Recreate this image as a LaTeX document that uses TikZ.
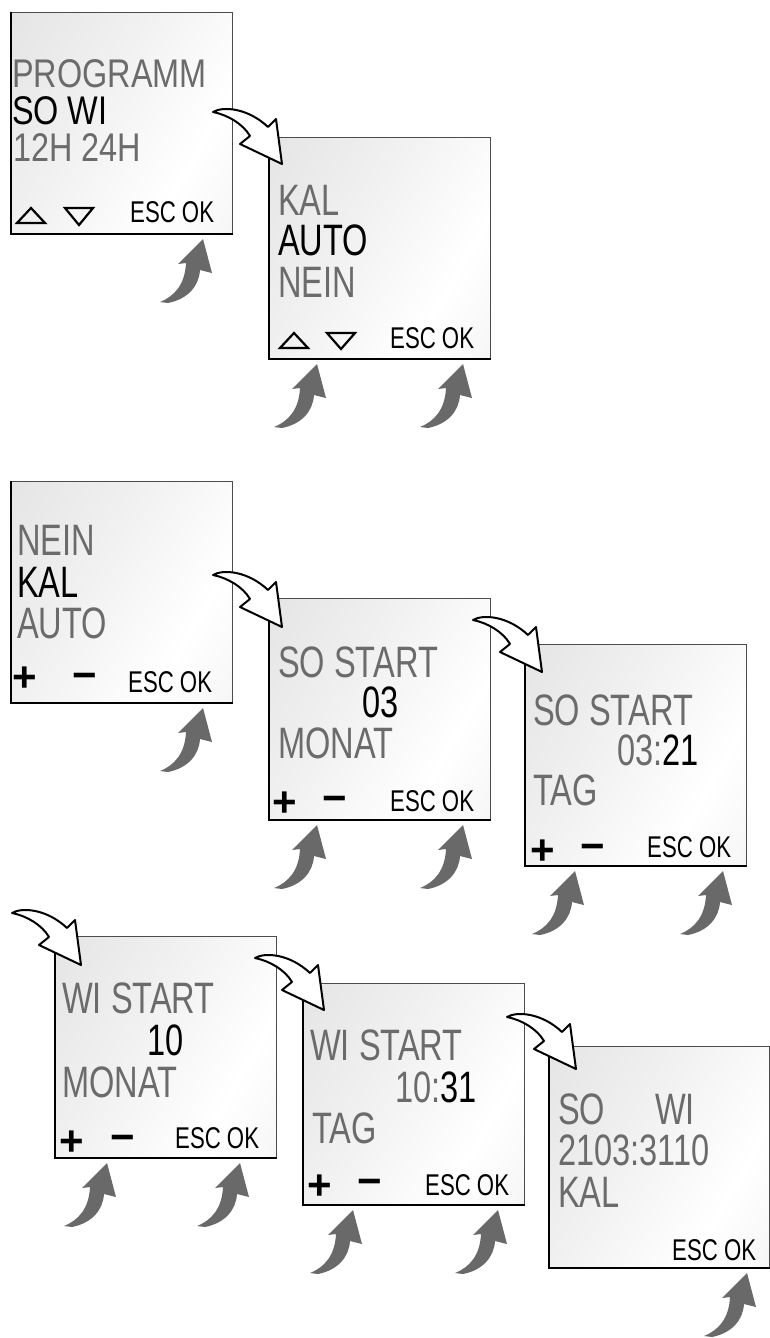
\documentclass[tikz,border=0pt]{standalone}
\usepackage{fontspec}
\newfontfamily\lcd[FakeStretch=0.74]{Liberation Sans}
\newfontfamily\lcdw[FakeStretch=0.81]{Liberation Sans}
\newfontfamily\symf{Liberation Sans}
\definecolor{lcdgray}{gray}{0.42}
\definecolor{pressgray}{gray}{0.41}
\pgfdeclarehorizontalshading{lcdshade}{100bp}{color(0bp)=(black!13); color(40bp)=(black!6); color(68bp)=(white); color(82bp)=(black!3); color(100bp)=(black!12)}
\tikzset{
  transarrow/.pic={
    \draw[line width=2pt, fill=white, line join=round]
      (0,0) .. controls (10,-6) and (35,-4) .. (55,15) -- (63,7) -- (69,52) -- (27,32) -- (37,24)
      .. controls (30,12) and (15,3) .. (0,0) -- cycle;
  },
  pressarrow/.pic={
    \fill[pressgray] (0,0) -- (9,34) -- (-3,31) .. controls (-4,47) and (-15,60) .. (-35,64)
      -- (-43,63) .. controls (-28,57) and (-18,45) .. (-17,24) -- (-25,25) -- cycle;
  }
}
\begin{document}
\begin{tikzpicture}[x=1pt, y=-1pt,
  screen/.style={draw=black!70, line width=1pt, shade, shading=lcdshade, shading angle=-30,
    minimum width=221pt, minimum height=221pt, inner sep=0pt, anchor=north west},
  big/.style={font=\lcd\fontsize{44}{44}\selectfont, anchor=base west, inner sep=0pt, text=lcdgray,
    text height=31pt, text depth=0pt},
  tight/.style={font=\lcdw\fontsize{40}{40}\selectfont, text height=29pt},
  lit/.style={text=black},
  small/.style={font=\lcd\fontsize{30}{30}\selectfont, anchor=base west, inner sep=0pt, text=black,
    text height=21pt, text depth=0pt},
  sym/.style={font=\symf\bfseries\fontsize{42}{42}\selectfont, inner sep=0pt, text=black},
  tri/.style={draw=black, line width=2.2pt, line join=miter},
  edge/.style={draw=black, line width=2pt}
]
\fill[white] (0,0) rectangle (770,1338);
\useasboundingbox (0,0) rectangle (770,1338);

% screens
\node[screen] (b1) at (11,12) {};
\node[screen] (b2) at (269,137) {};
\node[screen] (b3) at (11,481) {};
\node[screen] (b4) at (269,598) {};
\node[screen] (b5) at (525,644) {};
\node[screen] (b6) at (55,936) {};
\node[screen] (b7) at (303,983) {};
\node[screen, minimum width=220pt] (b8) at (549,1046) {};
\foreach \b in {b1,b2,b3,b4,b5,b6,b7,b8}{
  \draw[edge] (\b.north west) -- (\b.south west) -- (\b.south east);
}

% screen 1
\node[big, tight] (t1a) at (12,87) {PROGRAMM};
\node[big, tight, lit] (t1b) at (12,124) {SO WI};
\node[big, tight] (t1c) at (13,161) {12H 24H};
\node[small] (t1d) at (130,222) {ESC OK};
\draw[tri] (17,223) -- (45,223) -- (31,208) -- cycle;
\draw[tri] (65,208) -- (93,208) -- (79,225) -- cycle;

% screen 2
\node[big] (t2a) at (278,215) {KAL};
\node[big, lit] (t2b) at (278,255) {AUTO};
\node[big] (t2c) at (278,297) {NEIN};
\node[small] (t2d) at (390,348) {ESC OK};
\draw[tri] (280,348) -- (308,348) -- (294,333) -- cycle;
\draw[tri] (327,333) -- (355,333) -- (341,349) -- cycle;

% screen 3
\node[big] (t3a) at (17,555) {NEIN};
\node[big, lit] (t3b) at (17,597) {KAL};
\node[big] (t3c) at (17,638) {AUTO};
\node[small] (t3d) at (128,692) {ESC OK};
\node[sym] (p3) at (25,679) {+};
\node[sym] (m3) at (85,681) {−};

% screen 4
\node[big] (t4a) at (278,677) {SO START};
\node[big, lit] (t4b) at (362,717) {03};
\node[big] (t4c) at (278,758) {MONAT};
\node[small] (t4d) at (390,811) {ESC OK};
\node[sym] (p4) at (284.5,804) {+};
\node[sym] (m4) at (334.5,804) {−};

% screen 5
\node[big] (t5a) at (533,725) {SO START};
\node[big] (t5b) at (617,765) {03:\textcolor{black}{21}};
\node[big] (t5c) at (533,805) {TAG};
\node[small] (t5d) at (647,857) {ESC OK};
\node[sym] (p5) at (542.5,852) {+};
\node[sym] (m5) at (592.5,852) {−};

% screen 6
\node[big] (t6a) at (62,1013) {WI START};
\node[big, lit] (t6b) at (147,1055) {10};
\node[big] (t6c) at (62,1097) {MONAT};
\node[small] (t6d) at (175,1148) {ESC OK};
\node[sym] (p6) at (71.5,1143) {+};
\node[sym] (m6) at (122.5,1143) {−};

% screen 7
\node[big] (t7a) at (310,1060) {WI START};
\node[big] (t7b) at (395,1102) {10:\textcolor{black}{31}};
\node[big] (t7c) at (312,1143) {TAG};
\node[small] (t7d) at (425,1195) {ESC OK};
\node[sym] (p7) at (320,1187) {+};
\node[sym] (m7) at (370,1187) {−};

% screen 8
\node[big] (t8a) at (558,1124) {SO};
\node[big] (t8b) at (655,1124) {WI};
\node[big] (t8c) at (558,1165) {2103:3110};
\node[big] (t8d) at (558,1207) {KAL};
\node[small] (t8e) at (672,1260) {ESC OK};

% transition arrows
\pic at ([shift={(-56,-25)}]b2.north west) {transarrow};
\pic at ([shift={(-56,-23)}]b4.north west) {transarrow};
\pic at ([shift={(-52,-24)}]b5.north west) {transarrow};
\pic at ([shift={(-43,-23)}]b6.north west) {transarrow};
\pic at ([shift={(-48,-25)}]b7.north west) {transarrow};
\pic at ([shift={(-42,-29)}]b8.north west) {transarrow};

% button press arrows
\pic at ([shift={(192,5)}]b1.south west) {pressarrow};
\pic at ([shift={(48,5)}]b2.south west) {pressarrow};
\pic at ([shift={(194,5)}]b2.south west) {pressarrow};
\pic at ([shift={(192,5)}]b3.south west) {pressarrow};
\pic at ([shift={(48,5)}]b4.south west) {pressarrow};
\pic at ([shift={(194,5)}]b4.south west) {pressarrow};
\pic at ([shift={(50,5)}]b5.south west) {pressarrow};
\pic at ([shift={(198,5)}]b5.south west) {pressarrow};
\pic at ([shift={(52,5)}]b6.south west) {pressarrow};
\pic at ([shift={(185,5)}]b6.south west) {pressarrow};
\pic at ([shift={(50,5)}]b7.south west) {pressarrow};
\pic at ([shift={(195,5)}]b7.south west) {pressarrow};
\pic at ([shift={(198,5)}]b8.south west) {pressarrow};
\end{tikzpicture}
\end{document}
